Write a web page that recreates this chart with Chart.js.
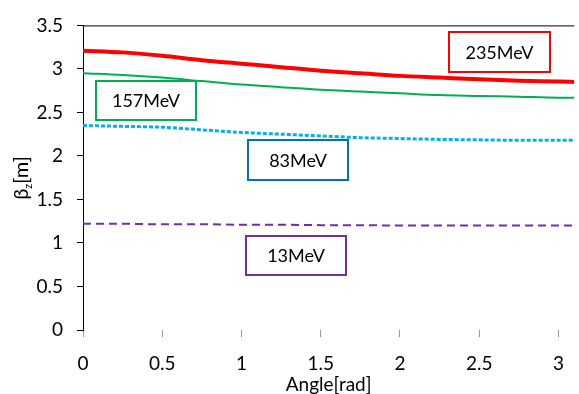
<!DOCTYPE html>
<html>
<head>
<meta charset="utf-8">
<script src="https://cdn.jsdelivr.net/npm/chart.js@4/dist/chart.umd.min.js"></script>
<style>
  body { margin: 0; background: #fff; }
  #wrap { width: 579px; height: 394px; }
</style>
</head>
<body>
<div id="wrap"><canvas id="grafico" width="579" height="394"></canvas></div>
<script>
// datos
const angulos = [0, 0.25, 0.5, 0.75, 1, 1.25, 1.5, 1.75, 2, 2.25, 2.5, 2.75, 3, 3.1]
const beta235 = [3.21, 3.19, 3.15, 3.10, 3.06, 3.02, 2.98, 2.95, 2.92, 2.90, 2.88, 2.865, 2.855, 2.85]
const beta157 = [2.95, 2.93, 2.90, 2.86, 2.82, 2.79, 2.76, 2.74, 2.72, 2.70, 2.69, 2.68, 2.67, 2.67]
const beta83 = [2.35, 2.34, 2.33, 2.30, 2.27, 2.25, 2.23, 2.21, 2.20, 2.19, 2.185, 2.18, 2.18, 2.18]
const beta13 = [1.22, 1.22, 1.215, 1.215, 1.21, 1.21, 1.205, 1.205, 1.20, 1.20, 1.20, 1.20, 1.20, 1.20]

const etiquetas = ['235MeV', '157MeV', '83MeV', '13MeV']

const fuente = "Lato, 'Open Sans', sans-serif"

const serie = (data) => angulos.map((a, i) => ({ x: a, y: data[i] }))

// cajas con el nombre de cada energia (en coordenadas de datos)
const cajas = [
  { texto: etiquetas[0], x: 2.31, y: 3.42, color: '#ff0000', ancho: 101, alto: 40 },
  { texto: etiquetas[1], x: 0.08, y: 2.86, color: '#00b050', ancho: 100, alto: 39 },
  { texto: etiquetas[2], x: 1.04, y: 2.18, color: '#0070c0', ancho: 100, alto: 40 },
  { texto: etiquetas[3], x: 1.03, y: 1.08, color: '#7030a0', ancho: 100, alto: 39 }
]

const pluginExtras = {
  id: 'extras',
  afterDraw(chart) {
    const { ctx, chartArea, scales } = chart
    ctx.save()
    // borde superior
    ctx.strokeStyle = '#000'
    ctx.lineWidth = 1
    ctx.beginPath()
    ctx.moveTo(chartArea.left, chartArea.top + 0.5)
    ctx.lineTo(chartArea.right, chartArea.top + 0.5)
    ctx.stroke()

    // cajas
    ctx.font = `18px ${fuente}`
    ctx.textAlign = 'center'
    ctx.textBaseline = 'middle'
    cajas.forEach(c => {
      const px = Math.round(scales.x.getPixelForValue(c.x))
      const py = Math.round(scales.y.getPixelForValue(c.y))
      ctx.fillStyle = '#fff'
      ctx.fillRect(px, py, c.ancho, c.alto)
      ctx.strokeStyle = c.color
      ctx.lineWidth = 2
      ctx.strokeRect(px, py, c.ancho, c.alto)
      ctx.fillStyle = '#000'
      ctx.fillText(c.texto, px + c.ancho / 2, py + c.alto / 2 + 1)
    })

    // titulo del eje y con subindice
    ctx.translate(22, 178)
    ctx.rotate(-Math.PI / 2)
    ctx.textAlign = 'left'
    ctx.textBaseline = 'middle'
    ctx.font = `20px ${fuente}`
    const w1 = ctx.measureText('β').width
    ctx.font = `11px ${fuente}`
    const w2 = ctx.measureText('z').width
    ctx.font = `20px ${fuente}`
    const w3 = ctx.measureText('[m]').width
    let x0 = -(w1 + w2 + w3) / 2
    ctx.fillText('β', x0, 0)
    ctx.font = `11px ${fuente}`
    ctx.fillText('z', x0 + w1, 6)
    ctx.font = `20px ${fuente}`
    ctx.fillText('[m]', x0 + w1 + w2, 0)
    ctx.restore()
  }
}

new Chart(document.getElementById('grafico'), {
  type: 'line',
  data: {
    datasets: [
      {
        label: etiquetas[0],
        data: serie(beta235),
        borderColor: '#ff0000',
        borderWidth: 4,
        cubicInterpolationMode: 'monotone'
      },
      {
        label: etiquetas[1],
        data: serie(beta157),
        borderColor: '#00b050',
        borderWidth: 2,
        cubicInterpolationMode: 'monotone'
      },
      {
        label: etiquetas[2],
        data: serie(beta83),
        borderColor: '#00b0f0',
        borderWidth: 3,
        borderDash: [4, 2],
        cubicInterpolationMode: 'monotone'
      },
      {
        label: etiquetas[3],
        data: serie(beta13),
        borderColor: '#7030a0',
        borderWidth: 2,
        borderDash: [8, 5],
        cubicInterpolationMode: 'monotone'
      }
    ]
  },
  options: {
    responsive: false,
    animation: false,
    elements: { point: { radius: 0 } },
    layout: { padding: { top: 20, right: 0, left: 0, bottom: 0 } },
    plugins: {
      legend: { display: false },
      tooltip: { enabled: false }
    },
    scales: {
      x: {
        type: 'linear',
        min: 0,
        max: 3.1,
        afterFit: (s) => { s.height = 64 },
        border: { display: false },
        grid: { drawOnChartArea: false, drawTicks: true, tickLength: 7, color: '#999' },
        ticks: {
          stepSize: 0.5,
          includeBounds: false,
          maxRotation: 0,
          padding: 15,
          color: '#000',
          font: { family: fuente, size: 19 },
          callback: (v) => String(v)
        },
        title: {
          display: true,
          text: 'Angle[rad]',
          color: '#000',
          padding: { top: 0, bottom: 0 },
          font: { family: fuente, size: 19, lineHeight: 1 }
        }
      },
      y: {
        min: 0,
        max: 3.5,
        afterFit: (s) => { s.width = 83 },
        border: { display: true, color: '#000', width: 1 },
        grid: { drawOnChartArea: false, drawTicks: true, tickLength: 6, color: '#000' },
        ticks: {
          stepSize: 0.5,
          padding: 14,
          color: '#000',
          font: { family: fuente, size: 19 },
          callback: (v) => String(v)
        }
      }
    }
  },
  plugins: [pluginExtras]
})
</script>
</body>
</html>
